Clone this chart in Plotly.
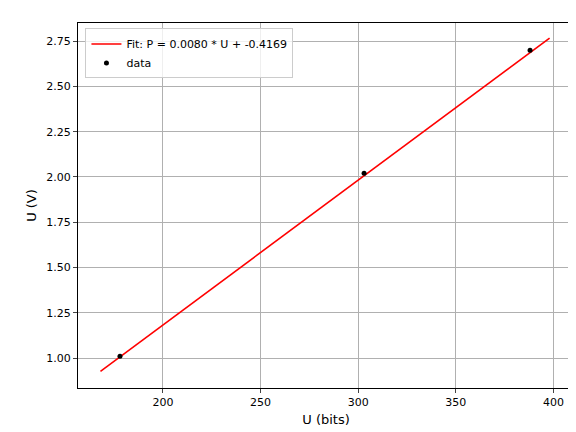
import numpy as np
import plotly.graph_objects as go

u_bits = [178, 303, 388]
u_volts = [1.01, 2.02, 2.70]
fit_range = [168, 398]
fit_slope = 0.0080
fit_intercept = -0.4169

fx = np.linspace(fit_range[0], fit_range[1], 50)
fy = fit_slope * fx + fit_intercept

fig = go.Figure()
fig.add_trace(go.Scatter(x=fx, y=fy, mode="lines", line=dict(color="red", width=1.6),
                         name=f"Fit: P = {fit_slope:.4f} * U + {fit_intercept:.4f}"))
fig.add_trace(go.Scatter(x=u_bits, y=u_volts, mode="markers", marker=dict(color="black", size=5),
                         name="data"))
ax = dict(showgrid=True, gridcolor="#b0b0b0", gridwidth=0.8, showline=True, linecolor="black",
          mirror=True, ticks="outside", ticklen=4, zeroline=False, tickfont=dict(size=11),
          automargin=False)
fig.update_layout(
    width=576, height=432, plot_bgcolor="white", paper_bgcolor="white",
    margin=dict(l=70, r=10, t=15, b=52),
    font=dict(family="DejaVu Sans", color="black", size=11),
    xaxis=dict(ax, range=[156.5, 410.5], tickvals=[200, 250, 300, 350, 400],
               title=dict(text="U (bits)", standoff=6)),
    yaxis=dict(ax, range=[0.835, 2.85], tickvals=[1.0, 1.25, 1.5, 1.75, 2.0, 2.25, 2.5, 2.75],
               tickformat=".2f", title=dict(text="U (V)", standoff=6)),
    legend=dict(x=0.015, y=0.985, xanchor="left", yanchor="top", bgcolor="rgba(255,255,255,0.8)",
                bordercolor="#cccccc", borderwidth=1, font=dict(size=11), tracegroupgap=0),
)
fig.write_html("out.html")
